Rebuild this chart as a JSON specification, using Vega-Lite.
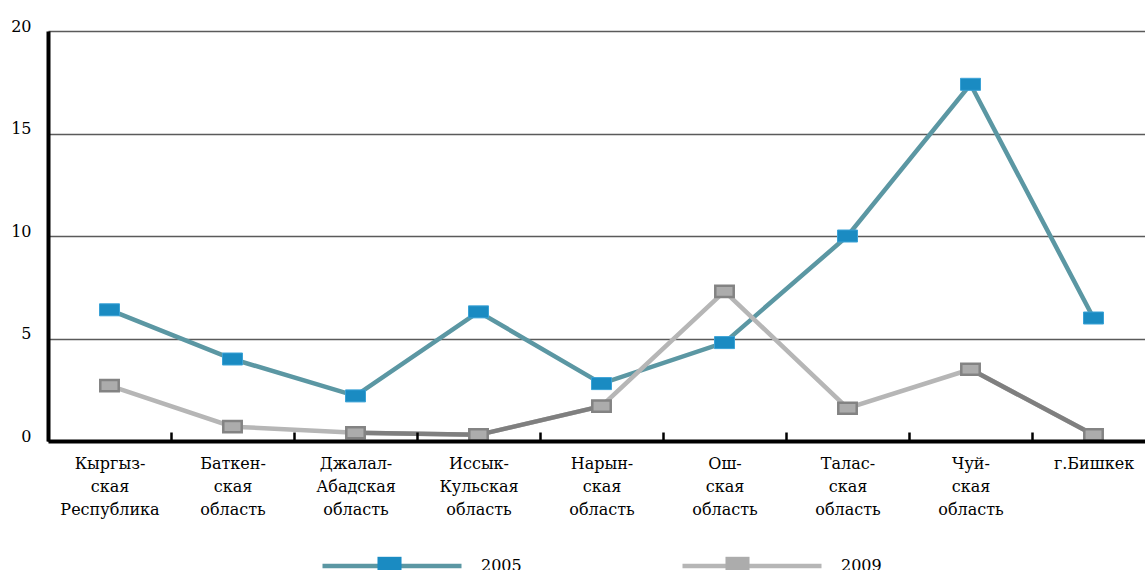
{
  "$schema": "https://vega.github.io/schema/vega-lite/v6.json",
  "width": 1097,
  "height": 410,
  "autosize": {"type": "none"},
  "padding": {"left": 48, "top": 31, "right": 0, "bottom": 129},
  "background": "white",
  "config": {
    "view": {"stroke": null},
    "font": "DejaVu Serif",
    "axis": {"labelFont": "DejaVu Serif"},
    "legend": {"padding": 0, "labelFont": "DejaVu Serif"}
  },
  "datasets": {
    "main": [
      {"region": "Кыргыз-|ская|Республика", "year": "2005", "value": 6.4},
      {"region": "Баткен-|ская|область", "year": "2005", "value": 4.0},
      {"region": "Джалал-|Абадская|область", "year": "2005", "value": 2.2},
      {"region": "Иссык-|Кульская|область", "year": "2005", "value": 6.3},
      {"region": "Нарын-|ская|область", "year": "2005", "value": 2.8},
      {"region": "Ош-|ская|область", "year": "2005", "value": 4.8},
      {"region": "Талас-|ская|область", "year": "2005", "value": 10.0},
      {"region": "Чуй-|ская|область", "year": "2005", "value": 17.4},
      {"region": "г.Бишкек", "year": "2005", "value": 6.0},
      {"region": "Кыргыз-|ская|Республика", "year": "2009", "value": 2.7},
      {"region": "Баткен-|ская|область", "year": "2009", "value": 0.7},
      {"region": "Джалал-|Абадская|область", "year": "2009", "value": 0.4},
      {"region": "Иссык-|Кульская|область", "year": "2009", "value": 0.3},
      {"region": "Нарын-|ская|область", "year": "2009", "value": 1.7},
      {"region": "Ош-|ская|область", "year": "2009", "value": 7.3},
      {"region": "Талас-|ская|область", "year": "2009", "value": 1.6},
      {"region": "Чуй-|ская|область", "year": "2009", "value": 3.5},
      {"region": "г.Бишкек", "year": "2009", "value": 0.3}
    ],
    "dark": [
      {"region": "Джалал-|Абадская|область", "seg": "a", "value": 0.4},
      {"region": "Иссык-|Кульская|область", "seg": "a", "value": 0.3},
      {"region": "Нарын-|ская|область", "seg": "a", "value": 1.7},
      {"region": "Чуй-|ская|область", "seg": "b", "value": 3.5},
      {"region": "г.Бишкек", "seg": "b", "value": 0.3}
    ]
  },
  "encoding": {
    "x": {
      "field": "region",
      "type": "nominal",
      "sort": null,
      "scale": {
        "type": "band",
        "domain": ["Кыргыз-|ская|Республика", "Баткен-|ская|область", "Джалал-|Абадская|область", "Иссык-|Кульская|область", "Нарын-|ская|область", "Ош-|ская|область", "Талас-|ская|область", "Чуй-|ская|область", "г.Бишкек"],
        "range": [0, 1107],
        "paddingInner": 0,
        "paddingOuter": 0
      },
      "axis": {
        "title": null,
        "labelExpr": "split(datum.label, '|')",
        "labelAngle": 0,
        "labelFont": "DejaVu Serif",
        "labelFontSize": 16,
        "labelLineHeight": 23,
        "labelColor": "#000",
        "labelPadding": 23,
        "labelLimit": 300,
        "labelOverlap": false,
        "domainColor": "#000",
        "domainWidth": 4,
        "ticks": true,
        "tickBand": "extent",
        "tickSize": -9,
        "tickWidth": 2.5,
        "tickColor": "#000",
        "grid": false,
        "zindex": 1
      }
    },
    "y": {
      "field": "value",
      "type": "quantitative",
      "scale": {"domain": [0, 20], "nice": false},
      "axis": {
        "title": null,
        "values": [0, 5, 10, 15, 20],
        "labelFont": "DejaVu Serif",
        "labelFontSize": 16,
        "labelColor": "#000",
        "labelPadding": 17,
        "labelOffset": -5,
        "ticks": false,
        "tickSize": 0,
        "domainColor": "#000",
        "domainWidth": 4,
        "gridColor": "#5a5a5a",
        "gridWidth": 1.3
      }
    }
  },
  "layer": [
    {
      "data": {"name": "main"},
      "mark": {"type": "line", "strokeWidth": 4.5},
      "encoding": {
        "stroke": {
          "field": "year",
          "type": "nominal",
          "scale": {"domain": ["2005", "2009"], "range": ["#5b97a3", "#b6b6b6"]},
          "legend": {
            "title": null,
            "orient": "none",
            "legendX": 272,
            "legendY": 463,
            "direction": "horizontal",
            "symbolType": "M-1,0L1,0",
            "symbolSize": 19321,
            "symbolStrokeWidth": 4.5,
            "labelFont": "DejaVu Serif",
            "labelFontSize": 16,
            "labelColor": "#000",
            "labelOffset": 17,
            "columnPadding": 151,
            "zindex": 0
          }
        }
      }
    },
    {
      "data": {"name": "dark"},
      "mark": {"type": "line", "strokeWidth": 4.5, "color": "#7f7f7f"},
      "encoding": {"detail": {"field": "seg", "type": "nominal"}}
    },
    {
      "data": {"name": "main"},
      "mark": {"type": "point", "filled": true, "opacity": 1, "shape": "M-1,-0.6L1,-0.6L1,0.6L-1,0.6Z"},
      "encoding": {
        "fill": {
          "field": "year",
          "type": "nominal",
          "scale": {"range": ["#1a8bc2", "#acacac"]},
          "legend": {
            "title": null,
            "orient": "none",
            "legendX": 272,
            "legendY": 463,
            "direction": "horizontal",
            "symbolType": "M-0.173,-0.1L0.173,-0.1L0.173,0.1L-0.173,0.1Z",
            "symbolSize": 19321,
            "symbolStrokeWidth": 0,
            "symbolOpacity": 1,
            "labelFont": "DejaVu Serif",
            "labelFontSize": 16,
            "labelColor": "transparent",
            "labelOffset": 17,
            "columnPadding": 151,
            "zindex": 1
          }
        },
        "size": {"condition": {"test": "datum.year == '2009'", "value": 340}, "value": 400},
        "stroke": {"condition": {"test": "datum.year == '2009'", "value": "#838383"}, "value": "#3aa2d6"},
        "strokeWidth": {"condition": {"test": "datum.year == '2009'", "value": 2.5}, "value": 1}
      }
    }
  ]
}
